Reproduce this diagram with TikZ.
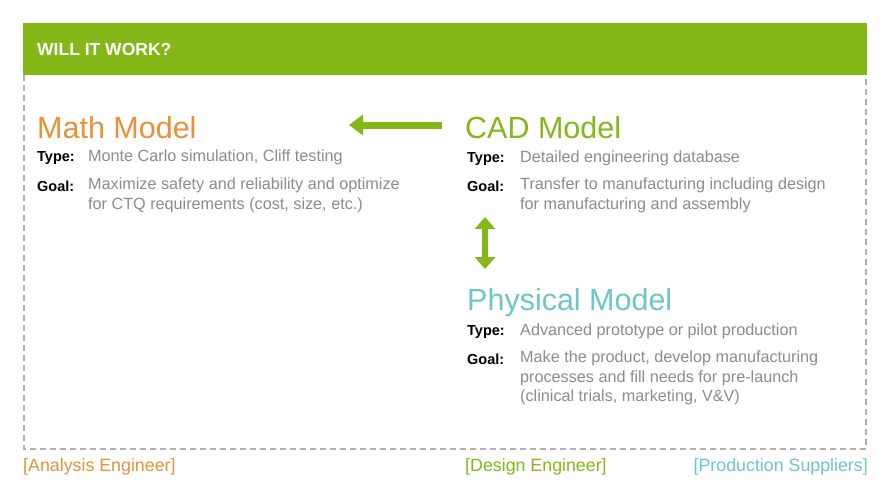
\documentclass[tikz,border=0pt]{standalone}
\usepackage{fontspec}
\setmainfont{Liberation Sans}
\usetikzlibrary{arrows.meta}
\definecolor{hdr}{HTML}{84B819}
\definecolor{org}{HTML}{E8913A}
\definecolor{tea}{HTML}{6EC6C6}
\definecolor{gtx}{HTML}{8C8C8C}
\begin{document}
\begin{tikzpicture}[x=1pt,y=-1pt,
  ttl/.style={anchor=west,inner sep=0,font=\fontsize{30.5}{32}\selectfont},
  lbl/.style={anchor=west,inner sep=0,font=\fontsize{14.5}{17}\selectfont\bfseries},
  txt/.style={anchor=north west,inner sep=0,text=gtx,align=left,font=\fontsize{16.2}{19.5}\selectfont},
  foot/.style={inner sep=0,font=\fontsize{17.8}{19}\selectfont},
  arr/.style={line width=7pt,draw=hdr,-{Triangle[length=14pt,width=20pt]}}]
\useasboundingbox (0,0) rectangle (890,496);
\fill[white] (0,0) rectangle (890,496);
\draw[gray!60,line width=1.2pt,dash pattern=on 6pt off 4pt] (24,75) -- (24,449) -- (866,449) -- (866,75);
\fill[hdr] (23,23) rectangle (867,75);
\node[anchor=west,inner sep=0,text=white,font=\fontsize{17.5}{19}\selectfont\bfseries] (h) at (37,49) {WILL IT WORK?};
% Math
\node[ttl,text=org] (m) at (37,128) {Math Model};
\node[lbl] (mt) at (37,158) {Type:};
\node[txt] at (88,150) {Monte Carlo simulation, Cliff testing};
\node[lbl] (mg) at (37,186) {Goal:};
\node[txt] at (88,178) {Maximize safety and reliability and optimize\\for CTQ requirements (cost, size, etc.)};
% CAD
\node[ttl,text=hdr] (c) at (465,128) {CAD Model};
\node[lbl] (ct) at (467,159) {Type:};
\node[txt] at (520,151) {Detailed engineering database};
\node[lbl] (cg) at (467,186) {Goal:};
\node[txt] at (520,178) {Transfer to manufacturing including design\\for manufacturing and assembly};
% Physical
\node[ttl,text=tea] (p) at (467,303) {Physical Model};
\node[lbl] (pt) at (467,332) {Type:};
\node[txt] at (520,324) {Advanced prototype or pilot production};
\node[lbl] (pg) at (467,359) {Goal:};
\node[txt] at (520,351) {Make the product, develop manufacturing\\processes and fill needs for pre-launch\\(clinical trials, marketing, V\&V)};
% arrows
\coordinate (a1) at (442,125); \coordinate (a2) at (349,125);
\draw[arr] (a1) -- (a2);
\coordinate (b1) at (485,217); \coordinate (b2) at (485,269);
\draw[line width=6pt,draw=hdr,{Triangle[length=12pt,width=20pt]}-{Triangle[length=12pt,width=20pt]}] (b1) -- (b2);
% footer
\node[foot,anchor=west,text=org] (f1) at (23,467) {[Analysis Engineer]};
\node[foot,anchor=west,text=hdr] (f2) at (465,467) {[Design Engineer]};
\node[foot,anchor=east,text=tea] (f3) at (868,467) {[Production Suppliers]};
\end{tikzpicture}
\end{document}
